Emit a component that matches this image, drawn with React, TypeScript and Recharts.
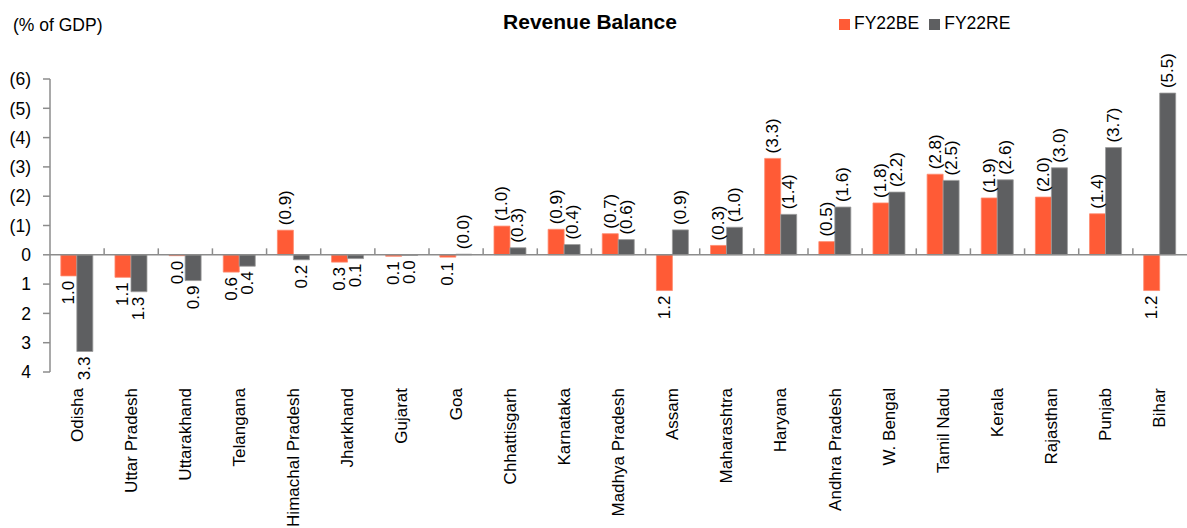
import React from 'react';
import { BarChart, Bar, XAxis, YAxis, ReferenceLine, Legend, LabelList } from 'recharts';

const categories = ['Odisha', 'Uttar Pradesh', 'Uttarakhand', 'Telangana', 'Himachal Pradesh', 'Jharkhand', 'Gujarat', 'Goa', 'Chhattisgarh', 'Karnataka', 'Madhya Pradesh', 'Assam', 'Maharashtra', 'Haryana', 'Andhra Pradesh', 'W. Bengal', 'Tamil Nadu', 'Kerala', 'Rajasthan', 'Punjab', 'Bihar'];

// positive = deficit (drawn upward, shown in parentheses)
const fy22be = [-0.72, -0.77, -0.03, -0.59, 0.84, -0.25, -0.05, -0.08, 0.98, 0.87, 0.72, -1.22, 0.32, 3.29, 0.45, 1.77, 2.75, 1.94, 1.97, 1.4, -1.22];
const fy22re = [-3.3, -1.26, -0.88, -0.39, -0.17, -0.13, -0.02, 0.02, 0.24, 0.35, 0.52, 0.85, 0.94, 1.38, 1.63, 2.14, 2.54, 2.56, 2.97, 3.66, 5.52];

const beLabels = ['1.0', '1.1', '0.0', '0.6', '(0.9)', '0.3', '0.1', '0.1', '(1.0)', '(0.9)', '(0.7)', '1.2', '(0.3)', '(3.3)', '(0.5)', '(1.8)', '(2.8)', '(1.9)', '(2.0)', '(1.4)', '1.2'];
const reLabels = ['3.3', '1.3', '0.9', '0.4', '0.2', '0.1', '0.0', '(0.0)', '(0.3)', '(0.4)', '(0.6)', '(0.9)', '(1.0)', '(1.4)', '(1.6)', '(2.2)', '(2.5)', '(2.6)', '(3.0)', '(3.7)', '(5.5)'];

const yTicks = [-4, -3, -2, -1, 0, 1, 2, 3, 4, 5, 6];

const data = categories.map((name, i) => ({
  name,
  be: fy22be[i],
  re: fy22re[i],
  beLabel: beLabels[i],
  reLabel: reLabels[i],
}));

const FONT = '"Liberation Sans", Arial, sans-serif';
const ORANGE = '#FF5B36';
const GRAY = '#5E5F61';
const AXIS = '#8C8C8C';

const makeLabel = (key: 'be' | 're') => (props: any) => {
  const vb = props.viewBox || props;
  const x = Number(props.x ?? vb.x);
  const y = Number(props.y ?? vb.y);
  const w = Number(props.width ?? vb.width);
  const h = Number(props.height ?? vb.height);
  const idx = props.index;
  const v = data[idx] ? data[idx][key] : 0;
  const cx = x + w / 2;
  const positive = v >= 0;
  const endY = positive ? Math.min(y, y + h) - 5 : Math.max(y, y + h) + 5;
  return (
    <text
      transform={`translate(${cx},${endY}) rotate(-90)`}
      textAnchor={positive ? 'start' : 'end'}
      dominantBaseline="central"
      fontSize={17}
      fontFamily={FONT}
      fill="#000"
    >
      {props.value}
    </text>
  );
};

const CatTick = (props: any) => {
  const { x, y, payload } = props;
  return (
    <text
      transform={`translate(${x},${y}) rotate(-90)`}
      textAnchor="end"
      dominantBaseline="central"
      fontSize={17}
      fontFamily={FONT}
      fill="#000"
    >
      {payload.value}
    </text>
  );
};

const fmtY = (v: number) => (v > 0 ? `(${v})` : v < 0 ? `${-v}` : '0');

export default function App() {
  return (
    <div style={{ position: 'absolute', left: 0, top: 0, width: 1187, height: 528, fontFamily: FONT, background: '#fff' }}>
      <div style={{ position: 'absolute', left: 13, top: 15, fontSize: 17.5, color: '#000', whiteSpace: 'nowrap' }}>(% of GDP)</div>
      <div style={{ position: 'absolute', left: 590, top: 10, transform: 'translateX(-50%)', fontSize: 21, fontWeight: 'bold', color: '#000', whiteSpace: 'nowrap' }}>Revenue Balance</div>
      <BarChart
        width={1187}
        height={528}
        data={data}
        margin={{ top: 79, right: 0, bottom: 6, left: 0 }}
        barCategoryGap="20%"
        barGap={0}
      >
        <XAxis
          dataKey="name"
          type="category"
          interval={0}
          axisLine={false}
          tickLine={false}
          tickSize={0}
          tickMargin={16}
          height={150}
          tick={<CatTick />}
        />
        <YAxis
          type="number"
          domain={[-4, 6]}
          ticks={yTicks}
          interval={0}
          tickFormatter={fmtY}
          width={50}
          axisLine={{ stroke: AXIS, strokeWidth: 1.5 }}
          tickLine={{ stroke: AXIS, strokeWidth: 1.5 }}
          tickSize={7}
          tickMargin={12}
          tick={{ fontSize: 17.5, fill: '#000', fontFamily: FONT }}
        />
        <Legend
          layout="horizontal"
          verticalAlign="middle"
          align="center"
          iconType="square"
          iconSize={11}
          wrapperStyle={{ top: 13, left: 839, width: 'auto', fontSize: 17.5, fontFamily: FONT, lineHeight: '20px' }}
          formatter={(value: any) => <span style={{ color: '#000' }}>{value}</span>}
        />
        <Bar dataKey="be" name="FY22BE" fill={ORANGE} stroke="#FF8A6E" strokeWidth={0.8} isAnimationActive={false}>
          <LabelList dataKey="beLabel" content={makeLabel('be')} />
        </Bar>
        <Bar dataKey="re" name="FY22RE" fill={GRAY} stroke="#9A9A9A" strokeWidth={0.8} isAnimationActive={false}>
          <LabelList dataKey="reLabel" content={makeLabel('re')} />
        </Bar>
        <ReferenceLine y={0} stroke={AXIS} strokeWidth={1.5} ifOverflow="visible" />
        {categories.slice(1).map((c) => (
          <ReferenceLine
            key={c}
            segment={[{ x: c, y: 0 }, { x: c, y: 0.22 }]}
            position="start"
            stroke={AXIS}
            strokeWidth={1.5}
            ifOverflow="visible"
          />
        ))}
      </BarChart>
    </div>
  );
}
